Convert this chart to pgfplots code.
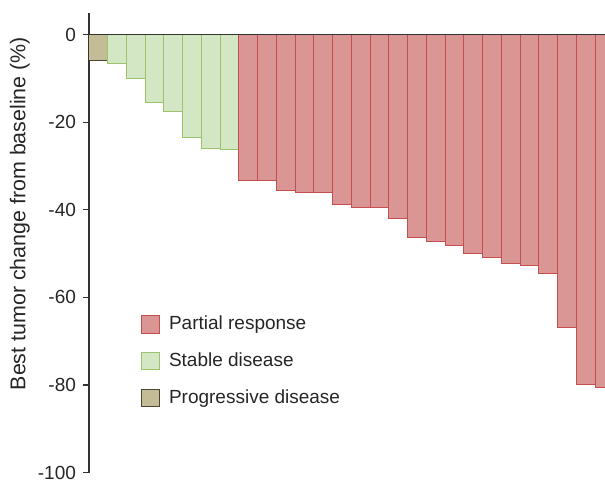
\documentclass[border=0pt]{standalone}
\usepackage{fontspec}
\setmainfont{Liberation Sans}
\usepackage{pgfplots}
\pgfplotsset{compat=1.18}
\definecolor{prfill}{HTML}{DA9695}
\definecolor{prdraw}{HTML}{C44F4E}
\definecolor{sdfill}{HTML}{D3E7C5}
\definecolor{sddraw}{HTML}{9CC36B}
\definecolor{pdfill}{HTML}{C4BC96}
\definecolor{pddraw}{HTML}{4A4630}
\definecolor{axgray}{HTML}{333333}
\begin{document}
\begin{tikzpicture}
\useasboundingbox (-44.5pt,-4.2pt) rectangle (258pt,236.3pt);
\begin{axis}[
  scale only axis,
  width=258pt, height=230pt,
  xmin=-0.5, xmax=27.03,
  ymin=-100, ymax=5,
  axis x line=none,
  axis y line*=left,
  axis line style={line width=0.65pt, axgray},
  ytick={-100,-80,-60,-40,-20,0},
  tick align=outside,
  major tick length=3pt,
  tick style={line width=0.6pt, axgray},
  /pgf/number format/assume math mode=true,
  ticklabel style={font=\fontsize{9.5pt}{11pt}\selectfont, text=black!85},
  ylabel={Best tumor change from baseline (\%)},
  ylabel style={at={(axis description cs:-0.134,0.563)}, anchor=center, font=\fontsize{10.7pt}{13pt}\selectfont, text=black!85},
  ybar, bar width=1, bar shift=0pt,
  legend style={draw=none, fill=none, at={(axis description cs:0.1008,0.350)}, anchor=north west,
    font=\fontsize{9.5pt}{11pt}\selectfont, text=black!85, row sep=6pt, inner sep=0pt},
  legend cell align=left,
  legend image code/.code={\draw[#1, line width=0.4pt] (0pt,-4.3pt) rectangle (8.6pt,4.3pt);
    \path[draw=none, fill=none] (0pt,0pt) -- (11.6pt,0pt);},
  reverse legend,
]
\addplot[fill=pdfill, draw=pddraw, line width=0.5pt] coordinates {(0,-5.9)};
\addlegendentry{Progressive disease}
\addplot[fill=sdfill, draw=sddraw, line width=0.5pt] coordinates {
(1,-6.6) (2,-10.0) (3,-15.5) (4,-17.5) (5,-23.5) (6,-26.0) (7,-26.2)};
\addlegendentry{Stable disease}
\addplot[fill=prfill, draw=prdraw, line width=0.5pt] coordinates {
(8,-33.3) (9,-33.3) (10,-35.5) (11,-36.0) (12,-36.0) (13,-38.7) (14,-39.4) (15,-39.6)
(16,-42.1) (17,-46.3) (18,-47.2) (19,-48.2) (20,-50.0) (21,-51.0) (22,-52.2) (23,-52.7)
(24,-54.5) (25,-66.8) (26,-79.8) (27,-80.5)};
\addlegendentry{Partial response}
\draw[line width=0.7pt, axgray] (axis cs:-0.5,0) -- (axis cs:27.03,0);
\end{axis}
\end{tikzpicture}
\end{document}
